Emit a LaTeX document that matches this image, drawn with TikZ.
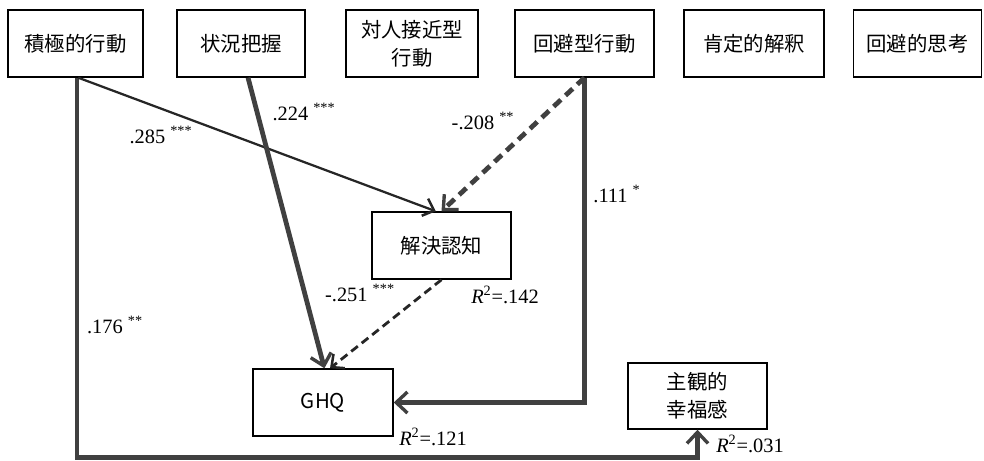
\documentclass[tikz,border=0pt]{standalone}
\usepackage{fontspec}
\setmainfont{Liberation Serif}
\newfontfamily\jp{Noto Sans CJK JP}
\usetikzlibrary{arrows.meta}

\tikzset{
  box/.style={draw, line width=1pt, minimum height=1.675cm, align=center,
    inner sep=2pt, font=\jp\fontsize{14.5}{20}\selectfont},
  coef/.style={inner sep=0pt, font=\fontsize{14.5}{16}\selectfont},
  heavy/.style={line width=3.4pt, black!75,
    -{Straight Barb[length=8pt,width=15pt,line width=2.4pt]}},
  light/.style={line width=1.6pt, black!85,
    -{Straight Barb[length=7pt,width=13pt,line width=1.8pt]}},
}

\begin{document}
\begin{tikzpicture}[x=0.025cm,y=-0.025cm]
\useasboundingbox (0,0) rectangle (984,460);

% predictors
\node[box, minimum width=3.375cm] (act) at (75.5,43.5) {積極的行動};
\node[box, minimum width=3.2cm] (sit) at (241,43.5) {状況把握};
\node[box, minimum width=3.3cm] (inter) at (412,43.5) {対人接近型\\行動};
\node[box, minimum width=3.475cm] (avd) at (584.5,43.5) {回避型行動};
\node[box, minimum width=3.5cm] (pos) at (754,43.5) {肯定的解釈};
\node[box, minimum width=3.2cm] (avt) at (917.5,43.5) {回避的思考};

% outcomes
\node[box, minimum width=3.475cm] (sol) at (441.5,245.5) {解決認知};
\node[box, minimum width=3.5cm] (ghq) at (323,402.5) {GHQ};
\node[box, minimum width=3.475cm, minimum height=1.65cm] (swb) at (697.5,396) {主観的\\幸福感};

% paths
\draw[heavy] ([xshift=1pt]act.south) -- ++(0,380) -| (swb.south);
\draw[light] ([xshift=2pt]act.south) -- ([xshift=-4pt]sol.north);
\draw[heavy] ([xshift=5pt]sit.south) -- ([xshift=1pt]ghq.north);
\draw[heavy, dash pattern=on 7pt off 4.5pt] (avd.south) -- (sol.north);
\draw[heavy] (avd.south) |- (ghq.east);
\draw[light, line width=2pt, dash pattern=on 6pt off 3.5pt] (sol.south) -- ([xshift=5pt]ghq.north);

% coefficients
\node[coef] (c285) at (161,135) {.285 \textsuperscript{***}};
\node[coef] (c224) at (304,112) {.224 \textsuperscript{***}};
\node[coef] (c208) at (483,121) {-.208 \textsuperscript{**}};
\node[coef] (c111) at (617,194) {.111 \textsuperscript{*}};
\node[coef] (c251) at (360,293) {-.251 \textsuperscript{***}};
\node[coef] (c176) at (115,325) {.176 \textsuperscript{**}};

% explained variance
\node[coef] (r142) at (505,295) {\textit{R}\textsuperscript{2}=.142};
\node[coef] (r121) at (433,437) {\textit{R}\textsuperscript{2}=.121};
\node[coef] (r031) at (750,444) {\textit{R}\textsuperscript{2}=.031};

\end{tikzpicture}
\end{document}
